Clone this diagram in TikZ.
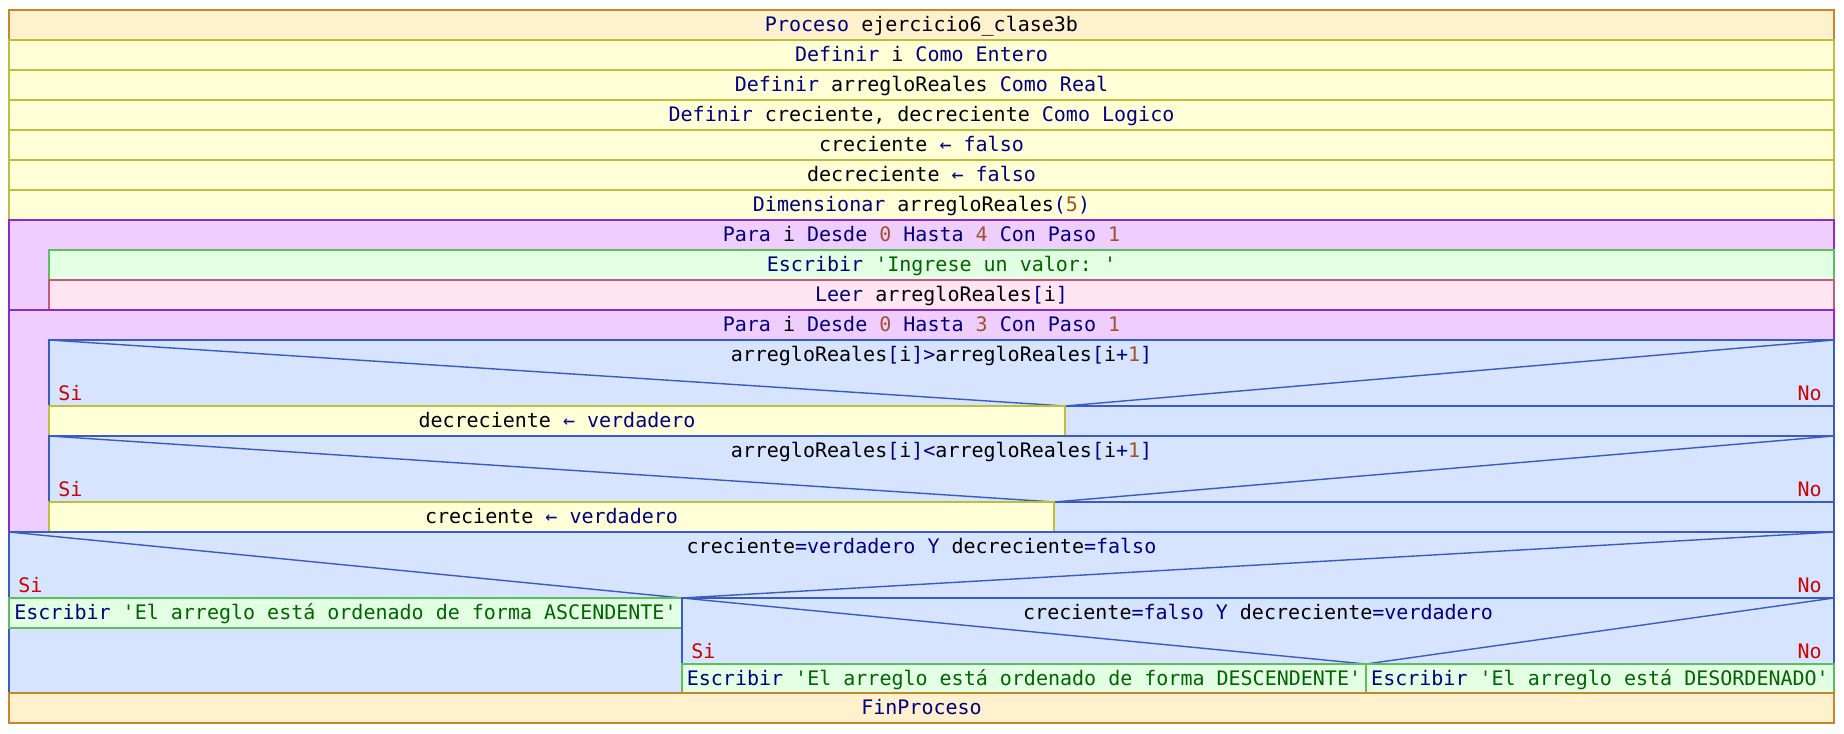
\documentclass[tikz,border=0pt]{standalone}
\usepackage{fontspec}
\setmonofont{DejaVu Sans Mono}
\definecolor{kwc}{HTML}{000080}
\definecolor{numc}{HTML}{A0522D}
\definecolor{strc}{HTML}{006400}
\definecolor{sinoc}{HTML}{D00000}
\definecolor{procfill}{HTML}{FFF1CD}
\definecolor{procdraw}{HTML}{C8862A}
\definecolor{asgfill}{HTML}{FFFFD7}
\definecolor{asgdraw}{HTML}{BEBE3C}
\definecolor{forfill}{HTML}{F0CDFF}
\definecolor{fordraw}{HTML}{8C2CC8}
\definecolor{outfill}{HTML}{E3FFE3}
\definecolor{outdraw}{HTML}{5CBE5C}
\definecolor{infill}{HTML}{FFE5F1}
\definecolor{indraw}{HTML}{C45A80}
\definecolor{iffill}{HTML}{D6E4FF}
\definecolor{ifdraw}{HTML}{3A5BC4}
\newcommand\pkw[1]{\textcolor{kwc}{#1}}
\newcommand\pnum[1]{\textcolor{numc}{#1}}
\newcommand\pstr[1]{\textcolor{strc}{#1}}
% box: name, style, x1, y1, x2, y2, text
\newcommand\psbox[7]{%
  \draw[#2] (#3,#4) rectangle (#5,#6);
  \node[txt] (#1) at ({(#3+#5)/2},{#4+21.5}) {#7};}
\tikzset{
  txt/.style={anchor=base,inner sep=0pt,font=\ttfamily\fontsize{10pt}{12pt}\selectfont},
  sino/.style={inner sep=0pt,text=sinoc,font=\ttfamily\fontsize{10pt}{12pt}\selectfont},
  procbox/.style={fill=procfill,draw=procdraw,line width=0.7pt},
  asgbox/.style={fill=asgfill,draw=asgdraw,line width=0.7pt},
  forbox/.style={fill=forfill,draw=fordraw,line width=0.7pt},
  outbox/.style={fill=outfill,draw=outdraw,line width=0.7pt},
  inbox/.style={fill=infill,draw=indraw,line width=0.7pt},
  ifbox/.style={fill=iffill,draw=ifdraw,line width=0.7pt},
  diag/.style={draw=ifdraw,line width=0.7pt},
}
\begin{document}
\begin{tikzpicture}[x=0.5pt,y=-0.5pt]
\useasboundingbox (0,0) rectangle (1844,734);
% header and declarations
\psbox{proc}{procbox}{9}{10}{1834}{40}{\pkw{Proceso} ejercicio6\_clase3b}
\psbox{d1}{asgbox}{9}{40}{1834}{70}{\pkw{Definir} i \pkw{Como Entero}}
\psbox{d2}{asgbox}{9}{70}{1834}{100}{\pkw{Definir} arregloReales \pkw{Como Real}}
\psbox{d3}{asgbox}{9}{100}{1834}{130}{\pkw{Definir} creciente, decreciente \pkw{Como Logico}}
\psbox{a1}{asgbox}{9}{130}{1834}{160}{creciente \pkw{← falso}}
\psbox{a2}{asgbox}{9}{160}{1834}{190}{decreciente \pkw{← falso}}
\psbox{dim}{asgbox}{9}{190}{1834}{220}{\pkw{Dimensionar} arregloReales\pkw{(}\pnum{5}\pkw{)}}
% loop 1
\draw[forbox] (9,220) rectangle (1834,310);
\node[txt] (for1) at (921.5,241.5) {\pkw{Para} i \pkw{Desde} \pnum{0} \pkw{Hasta} \pnum{4} \pkw{Con Paso} \pnum{1}};
\psbox{esc1}{outbox}{49}{250}{1834}{280}{\pkw{Escribir} \pstr{'Ingrese un valor: '}}
\psbox{leer}{inbox}{49}{280}{1834}{310}{\pkw{Leer} arregloReales\pkw{[}i\pkw{]}}
% loop 2
\draw[forbox] (9,310) rectangle (1834,532);
\node[txt] (for2) at (921.5,331.5) {\pkw{Para} i \pkw{Desde} \pnum{0} \pkw{Hasta} \pnum{3} \pkw{Con Paso} \pnum{1}};
% if 1
\draw[ifbox] (49,340) rectangle (1834,436);
\draw[diag] (49,340) -- (1065,406) -- (1834,340);
\draw[ifdraw,line width=0.7pt] (49,406) -- (1834,406);
\node[txt] (c1) at (941.5,361.5) {arregloReales\pkw{[}i\pkw{]>}arregloReales\pkw{[}i\pkw{+}\pnum{1}\pkw{]}};
\node[sino,anchor=base west] (si1) at (58,400) {Si};
\node[sino,anchor=base east] (no1) at (1822,400) {No};
\psbox{y1}{asgbox}{49}{406}{1065}{436}{decreciente \pkw{← verdadero}}
% if 2
\draw[ifbox] (49,436) rectangle (1834,532);
\draw[diag] (49,436) -- (1054,502) -- (1834,436);
\draw[ifdraw,line width=0.7pt] (49,502) -- (1834,502);
\node[txt] (c2) at (941.5,457.5) {arregloReales\pkw{[}i\pkw{]<}arregloReales\pkw{[}i\pkw{+}\pnum{1}\pkw{]}};
\node[sino,anchor=base west] (si2) at (58,496) {Si};
\node[sino,anchor=base east] (no2) at (1822,496) {No};
\psbox{y2}{asgbox}{49}{502}{1054}{532}{creciente \pkw{← verdadero}}
% outer if
\draw[ifbox] (9,532) rectangle (1834,693);
\draw[diag] (9,532) -- (682,598) -- (1834,532);
\node[txt] (c3) at (921.5,553.5) {creciente\pkw{=verdadero Y} decreciente\pkw{=falso}};
\node[sino,anchor=base west] (si3) at (18,592) {Si};
\node[sino,anchor=base east] (no3) at (1822,592) {No};
\psbox{asc}{outbox}{9}{598}{682}{628}{\pkw{Escribir} \pstr{'El arreglo está ordenado de forma ASCENDENTE'}}
% nested if
\draw[ifbox] (682,598) rectangle (1834,693);
\draw[diag] (682,598) -- (1366,664) -- (1834,598);
\node[txt] (c4) at (1258,619.5) {creciente\pkw{=falso Y} decreciente\pkw{=verdadero}};
\node[sino,anchor=base west] (si4) at (691,658) {Si};
\node[sino,anchor=base east] (no4) at (1822,658) {No};
\psbox{desc}{outbox}{682}{664}{1366}{693}{\pkw{Escribir} \pstr{'El arreglo está ordenado de forma DESCENDENTE'}}
\psbox{deso}{outbox}{1366}{664}{1834}{693}{\pkw{Escribir} \pstr{'El arreglo está DESORDENADO'}}
% end
\psbox{fin}{procbox}{9}{693}{1834}{723}{\pkw{FinProceso}}
\end{tikzpicture}
\end{document}
